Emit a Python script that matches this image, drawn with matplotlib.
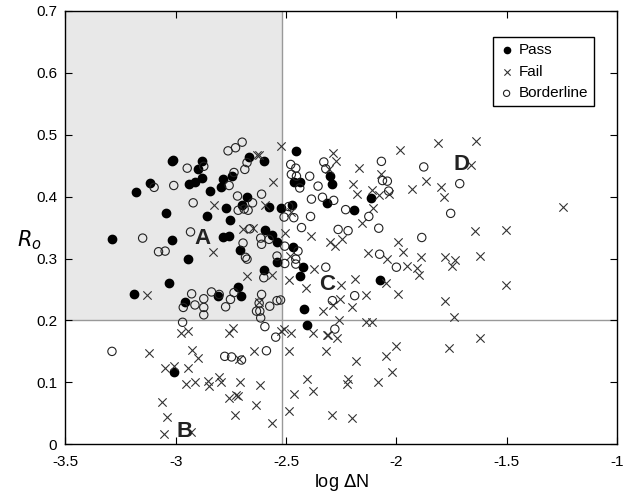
import matplotlib
matplotlib.use("Agg")
import matplotlib.pyplot as plt

plt.rcParams['font.family'] = ['Liberation Sans', 'DejaVu Sans']
plt.rcParams['axes.unicode_minus'] = False

# data: (log dN, Ro)
pass_x = [-3.019, -3.012, -2.899, -3.117, -2.939, -2.913, -3.178, -3.043, -3.289, -3.019,
          -2.944, -3.030, -3.190,
          -2.457, -2.880, -2.668, -2.601, -2.880, -2.785, -2.796, -2.745, -2.464, -2.438,
          -2.846, -2.773, -2.675, -2.699, -2.578, -2.523, -2.471, -2.858, -2.755, -2.785,
          -2.760, -2.596, -2.563, -2.543, -2.710, -2.468, -2.541, -2.423, -2.438, -2.601,
          -2.717, -2.808, -2.702,
          -2.302, -2.294, -2.314, -2.113, -2.192, -2.076,
          -2.956, -3.007, -2.418, -2.405]
pass_y = [0.458, 0.459, 0.445, 0.422, 0.421, 0.424, 0.408, 0.373, 0.331, 0.330,
          0.300, 0.260, 0.243,
          0.473, 0.458, 0.464, 0.457, 0.430, 0.428, 0.415, 0.433, 0.423, 0.423,
          0.409, 0.381, 0.399, 0.386, 0.383, 0.381, 0.386, 0.369, 0.362, 0.334,
          0.336, 0.346, 0.338, 0.326, 0.314, 0.319, 0.295, 0.287, 0.272, 0.281,
          0.254, 0.239, 0.240,
          0.433, 0.420, 0.389, 0.397, 0.379, 0.265,
          0.230, 0.116, 0.219, 0.192]

fail_x = [-3.130,
          -2.525, -2.634, -2.624, -2.559, -2.826, -2.596, -2.476, -2.697, -2.649, -2.506,
          -2.388, -2.831, -2.483, -2.373, -2.488, -2.411, -2.562, -2.679,
          -1.812, -1.985, -2.287, -2.275, -2.305, -2.171, -2.071, -2.197, -2.177, -2.109,
          -2.079, -2.035, -1.929, -1.867, -1.796, -1.785, -2.106, -2.156, -2.302, -2.279,
          -2.245, -1.993, -1.970, -2.129, -2.041, -1.887, -1.952, -1.905, -1.899, -1.781,
          -1.736, -1.748, -2.048, -2.249, -2.189, -1.993, -2.140,
          -1.638, -1.660, -1.245, -1.645, -1.505, -1.623, -1.502,
          -2.974, -2.944, -3.123, -2.926, -2.898, -3.049, -3.007, -2.944, -2.954, -2.913,
          -3.062, -3.039, -3.053, -2.933,
          -2.624, -2.525, -2.509, -2.479, -2.332, -2.378, -2.314, -2.758, -2.740, -2.713,
          -2.646, -2.488, -2.317, -2.853, -2.849, -2.803, -2.796, -2.710, -2.616, -2.758,
          -2.725, -2.720, -2.637, -2.732, -2.566, -2.405, -2.380, -2.465, -2.486,
          -2.254, -2.287, -2.199, -1.781, -1.740, -2.260, -2.136, -2.109, -2.310, -2.269,
          -2.184, -2.045, -2.003, -1.763, -2.219, -2.222, -2.083, -2.018, -2.294, -2.199,
          -1.620]
fail_y = [0.241,
          0.482, 0.468, 0.467, 0.423, 0.387, 0.386, 0.375, 0.347, 0.349, 0.342,
          0.336, 0.311, 0.304, 0.283, 0.265, 0.253, 0.273, 0.271,
          0.487, 0.475, 0.470, 0.458, 0.444, 0.447, 0.436, 0.421, 0.405, 0.411,
          0.402, 0.404, 0.412, 0.426, 0.415, 0.400, 0.381, 0.357, 0.326, 0.320,
          0.331, 0.326, 0.311, 0.309, 0.300, 0.303, 0.288, 0.284, 0.273, 0.303,
          0.298, 0.288, 0.261, 0.258, 0.267, 0.242, 0.241,
          0.490, 0.451, 0.383, 0.345, 0.346, 0.304, 0.258,
          0.180, 0.183, 0.148, 0.153, 0.139, 0.123, 0.126, 0.123, 0.098, 0.100,
          0.068, 0.044, 0.017, 0.020,
          0.230, 0.183, 0.186, 0.180, 0.215, 0.180, 0.176, 0.180, 0.187, 0.138,
          0.151, 0.151, 0.151, 0.102, 0.094, 0.108, 0.101, 0.101, 0.096, 0.074,
          0.079, 0.078, 0.063, 0.047, 0.035, 0.105, 0.086, 0.081, 0.053,
          0.235, 0.225, 0.221, 0.232, 0.206, 0.200, 0.198, 0.198, 0.176, 0.172,
          0.134, 0.143, 0.159, 0.155, 0.105, 0.097, 0.100, 0.116, 0.047, 0.042,
          0.171]

border_x = [-2.948, -3.098, -3.009, -2.921, -3.150, -2.933, -3.078, -3.048, -2.928,
            -2.763, -2.729, -2.699, -2.873, -2.677, -2.687, -2.479, -2.456, -2.758, -2.736,
            -2.476, -2.453, -2.438, -2.611, -2.720, -2.652, -2.717, -2.690, -2.672, -2.488,
            -2.509, -2.465, -2.389, -2.664, -2.430, -2.615, -2.577, -2.611, -2.695, -2.506,
            -2.446, -2.684, -2.677, -2.456, -2.456, -2.541, -2.506, -2.601, -2.838, -2.803,
            -2.736, -2.611, -2.393, -2.355, -2.385,
            -2.329, -2.320, -2.068, -1.876, -2.063, -2.041, -2.035, -1.713, -2.335, -2.284,
            -2.230, -2.125, -1.754, -2.080, -2.264, -2.219, -1.885, -2.076, -2.000, -2.320,
            -2.189,
            -2.966, -2.913, -2.969, -3.289,
            -2.873, -2.873, -2.873, -2.774, -2.752, -2.622, -2.574, -2.634, -2.619, -2.615,
            -2.541, -2.525, -2.596, -2.547, -2.778, -2.747, -2.702, -2.589,
            -2.290, -2.279]
border_y = [0.446, 0.415, 0.418, 0.390, 0.333, 0.343, 0.311, 0.312, 0.243,
            0.474, 0.479, 0.488, 0.449, 0.455, 0.444, 0.452, 0.446, 0.418, 0.439,
            0.436, 0.433, 0.414, 0.404, 0.401, 0.390, 0.378, 0.380, 0.378, 0.384,
            0.367, 0.366, 0.368, 0.348, 0.350, 0.333, 0.331, 0.323, 0.325, 0.320,
            0.312, 0.302, 0.299, 0.299, 0.291, 0.304, 0.292, 0.269, 0.246, 0.242,
            0.245, 0.242, 0.433, 0.417, 0.396,
            0.456, 0.445, 0.457, 0.448, 0.426, 0.425, 0.409, 0.421, 0.399, 0.394,
            0.379, 0.368, 0.373, 0.349, 0.347, 0.345, 0.334, 0.307, 0.286, 0.286,
            0.240,
            0.221, 0.225, 0.197, 0.150,
            0.235, 0.221, 0.209, 0.222, 0.234, 0.228, 0.223, 0.215, 0.215, 0.204,
            0.232, 0.233, 0.190, 0.173, 0.142, 0.141, 0.136, 0.151,
            0.232, 0.186]

region_labels = ['A', 'B', 'C', 'D']
region_x = [-2.88, -2.96, -2.315, -1.705]
region_y = [0.333, 0.021, 0.258, 0.452]

X_CUT = -2.52
Y_CUT = 0.2

fig = plt.figure(figsize=(6.29, 4.98), dpi=100)
ax = fig.add_axes([0.104, 0.108, 0.877, 0.870])

# shaded pass zone and the two cut lines
ax.fill_between([-3.5, X_CUT], Y_CUT, 0.7, color='#e8e8e8', lw=0, zorder=0)
ax.axvline(X_CUT, color='#999999', lw=1, zorder=1)
ax.axhline(Y_CUT, color='#999999', lw=1, zorder=1)

ax.scatter(pass_x, pass_y, s=36, c='black', marker='o', label='Pass', zorder=3)
ax.scatter(fail_x, fail_y, s=36, c='#333333', marker='x', linewidths=0.8, label='Fail', zorder=3)
ax.scatter(border_x, border_y, s=36, facecolors='none', edgecolors='#222222',
           linewidths=0.8, marker='o', label='Borderline', zorder=3)

for lab, lx, ly in zip(region_labels, region_x, region_y):
    ax.text(lx, ly, lab, fontsize=16, fontweight='bold', color='#222222',
            ha='center', va='center', zorder=4)

ax.set_xlim(-3.5, -1)
ax.set_ylim(0, 0.7)
ax.set_xticks([-3.5, -3, -2.5, -2, -1.5, -1])
ax.set_xticklabels(['-3.5', '-3', '-2.5', '-2', '-1.5', '-1'])
ax.set_yticks([0, 0.1, 0.2, 0.3, 0.4, 0.5, 0.6, 0.7])
ax.set_yticklabels(['0', '0.1', '0.2', '0.3', '0.4', '0.5', '0.6', '0.7'])
ax.tick_params(direction='in', top=True, right=True, labelsize=11, length=5, width=0.8)
ax.tick_params(axis='x', pad=8)
ax.tick_params(axis='y', pad=6)
for sp in ax.spines.values():
    sp.set_linewidth(1.0)

ax.set_xlabel(r'log $\Delta$N', fontsize=13, labelpad=2)
ax.set_ylabel(r'$R_o$', fontsize=15, rotation=0, va='center', ha='center')
ax.yaxis.set_label_coords(-0.065, 0.47)

leg = ax.legend(loc='upper right', bbox_to_anchor=(0.959, 0.94), borderaxespad=0,
                fontsize=11, markerscale=0.75, handletextpad=0.3, handlelength=1.0,
                fancybox=False, framealpha=1, edgecolor='black')
leg.get_frame().set_linewidth(1.0)

fig.savefig('out.png', dpi=100)
